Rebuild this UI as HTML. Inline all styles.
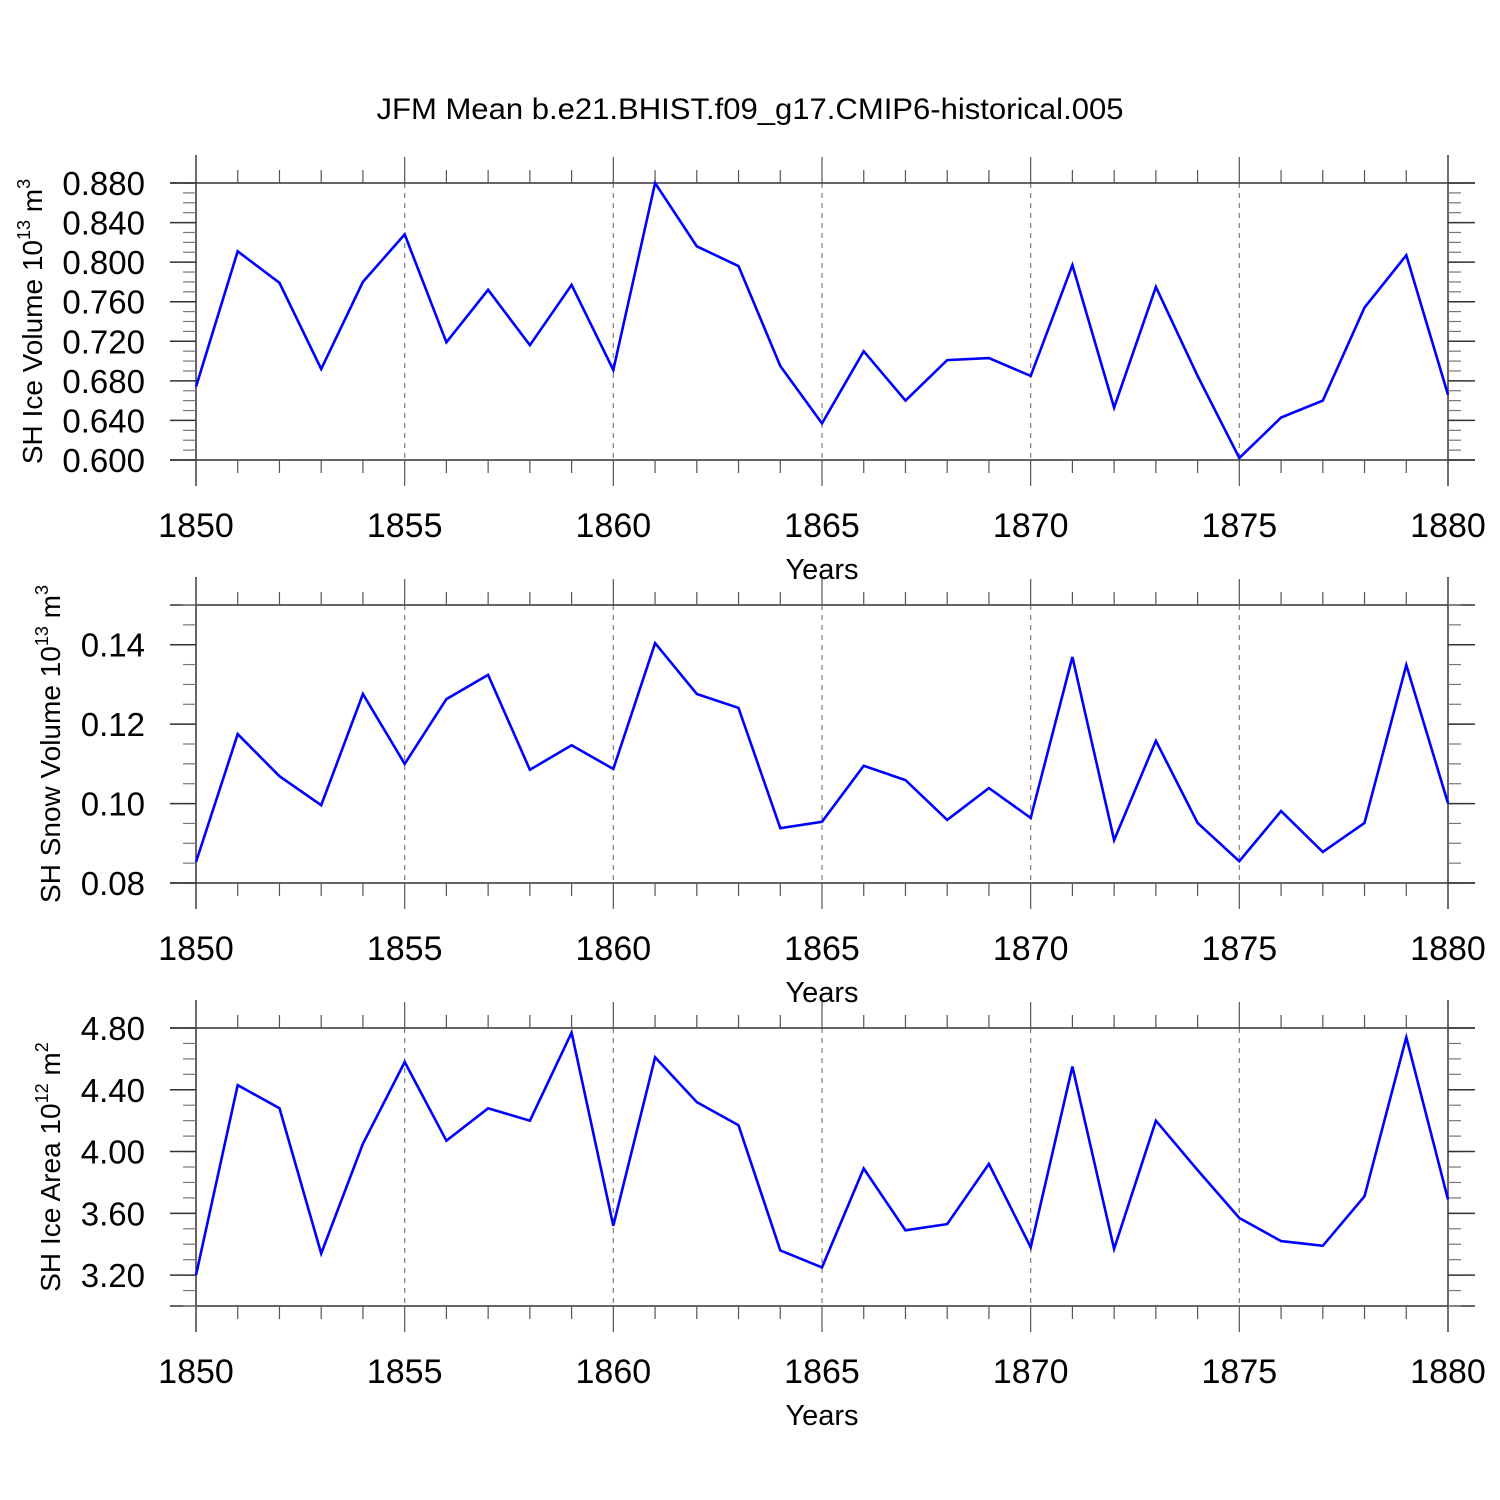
<!DOCTYPE html>
<html><head><meta charset="utf-8"><style>
html,body{margin:0;padding:0;background:#fff;width:1500px;height:1500px;overflow:hidden}
text{font-family:"Liberation Sans",Arial,sans-serif;fill:#000}
</style></head><body>
<svg id="chart" width="1500" height="1500" viewBox="0 0 1500 1500" xmlns="http://www.w3.org/2000/svg">
<text x="750" y="119" text-anchor="middle" font-size="30" textLength="747" lengthAdjust="spacingAndGlyphs">JFM Mean b.e21.BHIST.f09_g17.CMIP6-historical.005</text>
</svg>
<script>
const years = [1850,1851,1852,1853,1854,1855,1856,1857,1858,1859,1860,1861,1862,1863,1864,1865,1866,1867,1868,1869,1870,1871,1872,1873,1874,1875,1876,1877,1878,1879,1880];
const iceVolume = [0.674,0.811,0.779,0.692,0.780,0.828,0.719,0.772,0.716,0.777,0.691,0.880,0.816,0.796,0.695,0.637,0.710,0.660,0.701,0.703,0.685,0.797,0.653,0.775,0.685,0.602,0.643,0.660,0.754,0.807,0.666];
const snowVolume = [0.0853,0.1175,0.1069,0.0996,0.1276,0.1100,0.1263,0.1324,0.1085,0.1147,0.1087,0.1404,0.1276,0.1241,0.0938,0.0954,0.1095,0.1059,0.0959,0.1039,0.0964,0.1369,0.0908,0.1158,0.0951,0.0855,0.0981,0.0878,0.0951,0.1349,0.1001];
const iceArea = [3.20,4.43,4.28,3.34,4.05,4.58,4.07,4.28,4.20,4.77,3.52,4.61,4.32,4.17,3.36,3.25,3.89,3.49,3.53,3.92,3.38,4.55,3.37,4.20,3.88,3.57,3.42,3.39,3.71,4.74,3.69];
const xTicks = [1850,1855,1860,1865,1870,1875,1880];
const iceVolTicks = [0.600,0.640,0.680,0.720,0.760,0.800,0.840,0.880];
const snowTicks = [0.08,0.10,0.12,0.14];
const areaTicks = [3.20,3.60,4.00,4.40,4.80];

const NS='http://www.w3.org/2000/svg';
const svg=document.getElementById('chart');
function mk(tag,attrs,parent){const e=document.createElementNS(NS,tag);for(const k in attrs)e.setAttribute(k,attrs[k]);(parent||svg).appendChild(e);return e;}
const X0=196,X1=1448;
function xs(v){return X0+(v-1850)/(1880-1850)*(X1-X0);}

function panel(name,top,bottom,ymin,ymax,yTicks,dec,minorStep,data,titleHtml,titleX){
  const g=mk('g',{});
  
  
  const ys=v=>bottom-(v-ymin)/(ymax-ymin)*(bottom-top);
  for(let i=1;i<xTicks.length-1;i++){
    const l=mk('line',{x1:xs(xTicks[i]),x2:xs(xTicks[i]),y1:top,y2:bottom,stroke:'#888','stroke-width':1.3,'stroke-dasharray':'5,5'},g);
    
    
  }
  const ax={stroke:'#333','stroke-width':1.5};
  mk('line',Object.assign({x1:170,x2:1475,y1:top,y2:top},ax),g);
  mk('line',Object.assign({x1:170,x2:1475,y1:bottom,y2:bottom},ax),g);
  mk('line',Object.assign({x1:X0,x2:X0,y1:top-28,y2:bottom+26},ax),g);
  mk('line',Object.assign({x1:X1,x2:X1,y1:top-28,y2:bottom+26},ax),g);
  for(let y=1850;y<=1880;y++){
    const len=(y%5===0)?26:13;
    mk('line',{x1:xs(y),x2:xs(y),y1:top,y2:top-len,stroke:'#555','stroke-width':1.2},g);
    mk('line',{x1:xs(y),x2:xs(y),y1:bottom,y2:bottom+len,stroke:'#555','stroke-width':1.2},g);
  }
  const n=Math.round((ymax-ymin)/minorStep);
  for(let i=0;i<=n;i++){
    const y=ys(ymin+i*minorStep);
    mk('line',{x1:X0,x2:X0-13,y1:y,y2:y,stroke:'#777','stroke-width':1.2},g);
    mk('line',{x1:X1,x2:X1+13,y1:y,y2:y,stroke:'#777','stroke-width':1.2},g);
  }
  yTicks.forEach(v=>{
    const y=ys(v);
    mk('line',{x1:X0,x2:170,y1:y,y2:y,stroke:'#333','stroke-width':1.5},g);
    mk('line',{x1:X1,x2:1475,y1:y,y2:y,stroke:'#333','stroke-width':1.5},g);
    const t=mk('text',{x:145,y:y+12,'text-anchor':'end','font-size':33},g);
    t.textContent=v.toFixed(dec);
    
    
  });
  xTicks.forEach(v=>{
    const t=mk('text',{x:xs(v),y:bottom+77,'text-anchor':'middle','font-size':34},g);
    t.textContent=v;
    
    
  });
  const xt=mk('text',{x:822,y:bottom+119,'text-anchor':'middle','font-size':29},g);
  xt.textContent='Years';
  
  
  const cy=(top+bottom)/2;
  const yt=mk('text',{x:titleX,y:cy,'text-anchor':'middle','font-size':28,transform:`rotate(-90 ${titleX} ${cy})`},g);
  yt.innerHTML=titleHtml;
  
  
  const pts=data.map((v,i)=>xs(years[i]).toFixed(1)+','+ys(v).toFixed(1)).join(' ');
  const pl=mk('polyline',{points:pts,fill:'none',stroke:'#0000ff','stroke-width':2.6,'stroke-linejoin':'miter'},g);
  
  
}
panel('ice-volume',183,460,0.60,0.88,iceVolTicks,3,0.01,iceVolume,'SH Ice Volume 10<tspan font-size="18" dy="-12">13</tspan><tspan dy="12"> m</tspan><tspan font-size="18" dy="-12">3</tspan>',42);
panel('snow-volume',605,883,0.08,0.15,snowTicks,2,0.005,snowVolume,'SH Snow Volume 10<tspan font-size="18" dy="-12">13</tspan><tspan dy="12"> m</tspan><tspan font-size="18" dy="-12">3</tspan>',60);
panel('ice-area',1028,1306,3.0,4.8,areaTicks,2,0.1,iceArea,'SH Ice Area 10<tspan font-size="18" dy="-12">12</tspan><tspan dy="12"> m</tspan><tspan font-size="18" dy="-12">2</tspan>',60);
</script>
</body></html>
